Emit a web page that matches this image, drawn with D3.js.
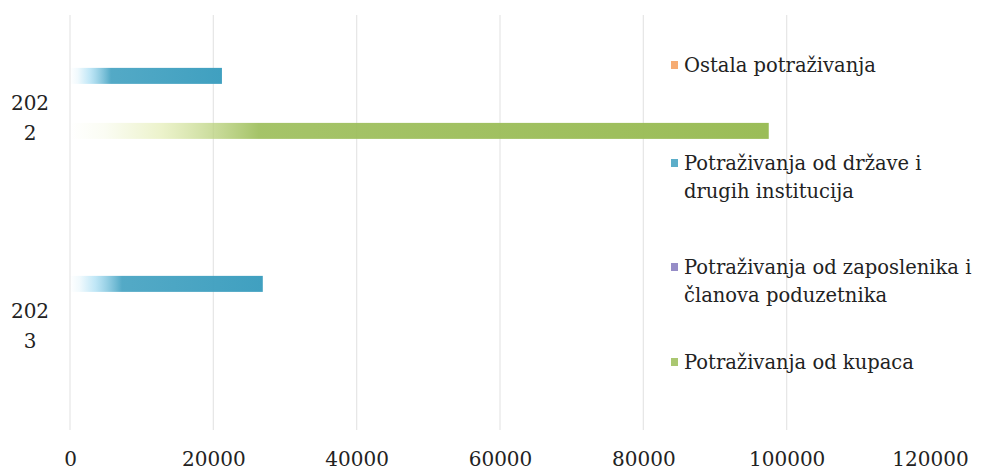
<!DOCTYPE html>
<html>
<head>
<meta charset="utf-8">
<script src="https://cdn.jsdelivr.net/npm/d3@7"></script>
<style>
  html, body { margin: 0; padding: 0; background: #fff; }
  svg { display: block; }
  text { font-family: "DejaVu Serif", serif; fill: #222; }
</style>
</head>
<body>
<svg id="chart" width="986" height="470"></svg>
<script>
// ---- data ----
const categories = ["2022", "2023"];
const categoryLines = [["202", "2"], ["202", "3"]];
const seriesNames = [
  "Ostala potraživanja",
  "Potraživanja od države i drugih institucija",
  "Potraživanja od zaposlenika i članova poduzetnika",
  "Potraživanja od kupaca"
];
const legendLines = [
  ["Ostala potraživanja"],
  ["Potraživanja od države i", "drugih institucija"],
  ["Potraživanja od zaposlenika i", "članova poduzetnika"],
  ["Potraživanja od kupaca"]
];
const ostala = [0, 0];
const drzava = [21200, 26900];
const zaposlenici = [0, 0];
const kupci = [97500, 0];
const seriesValues = [ostala, drzava, zaposlenici, kupci];
const tickValues = [0, 20000, 40000, 60000, 80000, 100000, 120000];
const seriesColors = ["#f59d5b", "#40a0c0", "#8479bd", "#9bbd58"];
const seriesLight = ["#fbd2b0", "#9fdaf2", "#c6c0e6", "#e2ecb0"];

// ---- layout ----
const svg = d3.select("#chart");
const x = d3.scaleLinear().domain([0, 120000]).range([70, 930]);
const y = d3.scaleBand().domain(categories).range([13, 429]).padding(0);
const yInner = d3.scaleBand().domain(seriesNames).range([0, y.bandwidth()])
  .paddingInner(0.418).paddingOuter(1.99).align(0.25);

// gradients
const defs = svg.append("defs");
seriesNames.forEach((s, i) => {
  const g = defs.append("linearGradient").attr("id", "grad" + i)
    .attr("x1", "0").attr("x2", "1").attr("y1", "0").attr("y2", "0");
  g.append("stop").attr("offset", "0").attr("stop-color", seriesLight[i]).attr("stop-opacity", 0);
  g.append("stop").attr("offset", "0.05").attr("stop-color", seriesLight[i]).attr("stop-opacity", 0.15);
  g.append("stop").attr("offset", "0.13").attr("stop-color", seriesLight[i]).attr("stop-opacity", 0.65);
  g.append("stop").attr("offset", "0.27").attr("stop-color", seriesColors[i]).attr("stop-opacity", 0.9);
  g.append("stop").attr("offset", "1").attr("stop-color", seriesColors[i]).attr("stop-opacity", 1);
});

// gridlines (up to 100000)
svg.append("g").selectAll("line")
  .data(tickValues.filter(t => t <= 100000))
  .join("line")
  .attr("x1", d => x(d)).attr("x2", d => x(d))
  .attr("y1", 15).attr("y2", 430)
  .attr("stroke", "#e6e6e6").attr("stroke-width", 1.2);

// bars
const barData = [];
seriesNames.forEach((s, i) => {
  categories.forEach((c, j) => {
    barData.push({ s, i, c, v: seriesValues[i][j] });
  });
});
svg.append("g").selectAll("rect")
  .data(barData.filter(d => d.v > 0))
  .join("rect")
  .attr("x", x(0))
  .attr("y", d => y(d.c) + yInner(d.s))
  .attr("width", d => x(d.v) - x(0))
  .attr("height", yInner.bandwidth())
  .attr("fill", d => "url(#grad" + d.i + ")");

// x axis labels
const xAxis = d3.axisBottom(x).tickValues(tickValues).tickSize(0).tickPadding(0)
  .tickFormat(d3.format("d"));
const ax = svg.append("g").attr("transform", "translate(0,452)").call(xAxis);
ax.select(".domain").remove();
ax.selectAll("text").style("font-family", "DejaVu Serif, serif").style("font-size", "20px")
  .attr("fill", "#222");

// category labels
categories.forEach((c, j) => {
  const cy = y(c) + y.bandwidth() / 2;
  const t = svg.append("text").attr("text-anchor", "middle").attr("font-size", 20);
  categoryLines[j].forEach((ln, k) => {
    t.append("tspan").attr("x", 30).attr("y", cy - 7 + k * 30).text(ln);
  });
});

// legend
const legendY = [72, 170, 274, 369];
seriesNames.forEach((s, i) => {
  const g = svg.append("g");
  g.append("rect").attr("x", 671).attr("y", legendY[i] - 11).attr("width", 7).attr("height", 8)
    .attr("fill", seriesColors[i]).attr("opacity", 0.85);
  const t = g.append("text").attr("font-size", 19.5);
  legendLines[i].forEach((ln, k) => {
    t.append("tspan").attr("x", 684).attr("y", legendY[i] + k * 28).text(ln);
  });
});
</script>
</body>
</html>
